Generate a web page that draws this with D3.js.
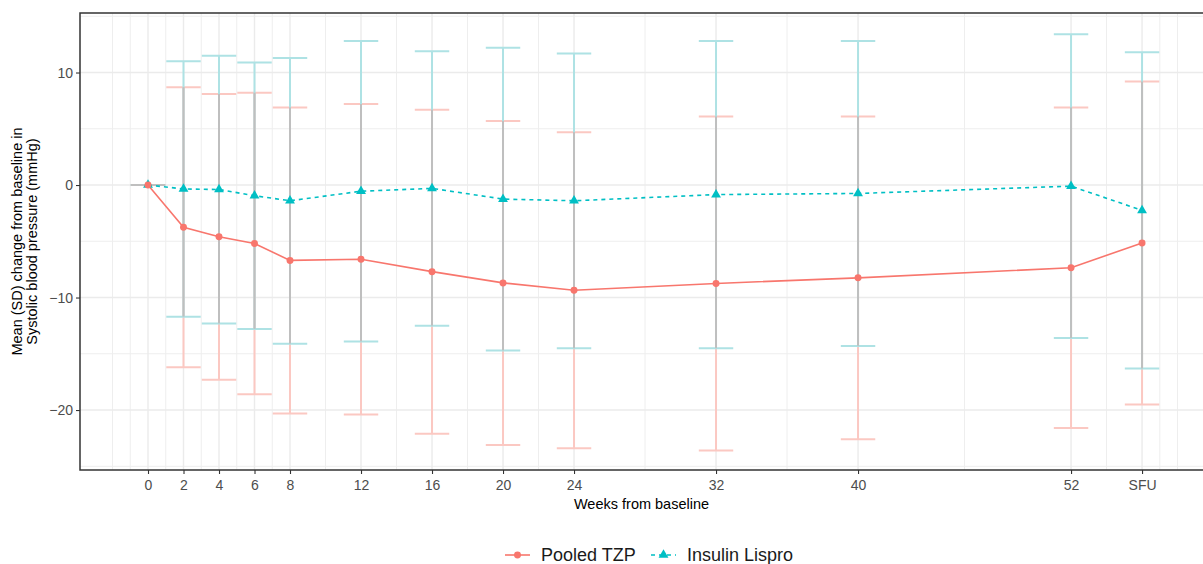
<!DOCTYPE html>
<html>
<head>
<meta charset="utf-8">
<script src="https://cdn.jsdelivr.net/npm/d3@7"></script>
<style>
  html, body { margin: 0; padding: 0; background: #ffffff; }
  svg { display: block; font-family: "Liberation Sans", Arial, sans-serif; }
</style>
</head>
<body>
<svg id="chart" width="1203" height="564"></svg>
<script>
// Visit weeks (SFU = safety follow-up, plotted at week 56)
const weeks = [0, 2, 4, 6, 8, 12, 16, 20, 24, 32, 40, 52, 56];
const weekLabels = ["0", "2", "4", "6", "8", "12", "16", "20", "24", "32", "40", "52", "SFU"];

// Mean (SD) change from baseline in systolic blood pressure, mmHg
const tzpMean = [0, -3.75, -4.6, -5.2, -6.7, -6.6, -7.7, -8.7, -9.35, -8.75, -8.25, -7.35, -5.15];
const tzpSD   = [0, 12.45, 12.7, 13.4, 13.6, 13.8, 14.4, 14.4, 14.05, 14.85, 14.35, 14.25, 14.35];
const lisMean = [0, -0.35, -0.4, -0.95, -1.4, -0.55, -0.3, -1.25, -1.4, -0.85, -0.75, -0.1, -2.25];
const lisSD   = [0, 11.35, 11.9, 11.85, 12.7, 13.35, 12.2, 13.45, 13.1, 13.65, 13.55, 13.5, 14.05];

const seriesNames = ["Pooled TZP", "Insulin Lispro"];

const yTicks = [-20, -10, 0, 10];
const yMinor = [-25, -15, -5, 5, 15];
const xMinor = [-2, -1, 1, 3, 5, 7, 10, 14, 18, 22, 28, 36, 46, 54, 57, 58];

const colTZP = "#F8766D", colLis = "#00BFC4";
const barTZP = "#fbc8c2", barLis = "#aee2e4", barShared = "#bfbfbf";

const svg = d3.select("#chart");
const panel = { left: 80, top: 13, right: 1204, bottom: 470 };

const x = d3.scaleLinear().domain([-3.831, 59.49]).range([panel.left, panel.right]);
const y = d3.scaleLinear().domain([-25.33, 15.29]).range([panel.bottom, panel.top]);

const series = [
  { name: seriesNames[0], mean: tzpMean, sd: tzpSD, color: colTZP, bar: barTZP, dash: null, shape: d3.symbolCircle },
  { name: seriesNames[1], mean: lisMean, sd: lisSD, color: colLis, bar: barLis, dash: "4,4", shape: d3.symbolTriangle }
];
series.forEach(s => {
  s.rows = weeks.map((w, i) => ({ w, m: s.mean[i], lo: s.mean[i] - s.sd[i], hi: s.mean[i] + s.sd[i] }));
});

svg.append("clipPath").attr("id", "pclip").append("rect")
  .attr("x", panel.left).attr("y", panel.top)
  .attr("width", panel.right - panel.left).attr("height", panel.bottom - panel.top);

const g = svg.append("g").attr("clip-path", "url(#pclip)");

// Grid
g.selectAll(".ymin").data(yMinor).join("line")
  .attr("x1", panel.left).attr("x2", panel.right)
  .attr("y1", d => y(d)).attr("y2", d => y(d))
  .attr("stroke", "#eeeeee").attr("stroke-width", 1);
g.selectAll(".xmin").data(xMinor).join("line")
  .attr("y1", panel.top).attr("y2", panel.bottom)
  .attr("x1", d => x(d)).attr("x2", d => x(d))
  .attr("stroke", "#eeeeee").attr("stroke-width", 1);
g.selectAll(".ymaj").data(yTicks).join("line")
  .attr("x1", panel.left).attr("x2", panel.right)
  .attr("y1", d => y(d)).attr("y2", d => y(d))
  .attr("stroke", "#ebebeb").attr("stroke-width", 1.4);
g.selectAll(".xmaj").data(weeks).join("line")
  .attr("y1", panel.top).attr("y2", panel.bottom)
  .attr("x1", d => x(d)).attr("x2", d => x(d))
  .attr("stroke", "#ebebeb").attr("stroke-width", 1.4);

// Error bars (mean ± SD), caps about one week either side
const capHalf = 0.97;
series.forEach(s => {
  const eb = g.append("g");
  eb.selectAll("line.v").data(s.rows).join("line")
    .attr("x1", d => x(d.w)).attr("x2", d => x(d.w))
    .attr("y1", d => y(d.lo)).attr("y2", d => y(d.hi))
    .attr("stroke", s.bar).attr("stroke-width", 2);
  ["lo", "hi"].forEach(k => {
    eb.selectAll("line.c" + k).data(s.rows).join("line")
      .attr("x1", d => x(d.w - capHalf)).attr("x2", d => x(d.w + capHalf))
      .attr("y1", d => y(d[k])).attr("y2", d => y(d[k]))
      .attr("stroke", s.bar).attr("stroke-width", 2);
  });
});

// Range covered by both groups' bars
const shared = weeks.map((w, i) => ({
  w,
  lo: Math.max(series[0].rows[i].lo, series[1].rows[i].lo),
  hi: Math.min(series[0].rows[i].hi, series[1].rows[i].hi),
  same: series[0].rows[i].lo === series[1].rows[i].lo && series[0].rows[i].hi === series[1].rows[i].hi
}));
g.selectAll("line.shared").data(shared.filter(d => d.hi > d.lo)).join("line")
  .attr("x1", d => x(d.w)).attr("x2", d => x(d.w))
  .attr("y1", d => y(d.lo)).attr("y2", d => y(d.hi))
  .attr("stroke", barShared).attr("stroke-width", 2);
g.selectAll("line.sharedcap").data(shared.filter(d => d.same)).join("line")
  .attr("x1", d => x(d.w - capHalf)).attr("x2", d => x(d.w + capHalf))
  .attr("y1", d => y(d.lo)).attr("y2", d => y(d.lo))
  .attr("stroke", barShared).attr("stroke-width", 2);

// Mean lines and points
const line = d3.line().x(d => x(d.w)).y(d => y(d.m));
series.forEach(s => {
  g.append("path").datum(s.rows)
    .attr("d", line).attr("fill", "none")
    .attr("stroke", s.color).attr("stroke-width", 1.6)
    .attr("stroke-dasharray", s.dash);
});
series.slice().reverse().forEach(s => {
  g.selectAll(null).data(s.rows).join("path")
    .attr("transform", d => `translate(${x(d.w)},${y(d.m)})`)
    .attr("d", d3.symbol().type(s.shape).size(s.shape === d3.symbolCircle ? 38 : 42))
    .attr("fill", s.color);
});

// Panel border
svg.append("rect")
  .attr("x", panel.left).attr("y", panel.top)
  .attr("width", panel.right - panel.left).attr("height", panel.bottom - panel.top)
  .attr("fill", "none").attr("stroke", "#333333").attr("stroke-width", 1.5);

// Axes
const xAxis = d3.axisBottom(x).tickValues(weeks)
  .tickFormat((d, i) => weekLabels[i]).tickSize(4).tickPadding(6);
const xg = svg.append("g").attr("transform", `translate(0,${panel.bottom})`).call(xAxis);
xg.select(".domain").remove();
xg.selectAll(".tick line").attr("stroke", "#333333").attr("stroke-width", 1.1);
xg.selectAll(".tick text").attr("fill", "#4d4d4d").style("font-size", "14px")
  .style("font-family", "Liberation Sans, Arial, sans-serif");

const yAxis = d3.axisLeft(y).tickValues(yTicks).tickSize(4).tickPadding(3);
const yg = svg.append("g").attr("transform", `translate(${panel.left},0)`).call(yAxis);
yg.select(".domain").remove();
yg.selectAll(".tick line").attr("stroke", "#333333").attr("stroke-width", 1.1);
yg.selectAll(".tick text").attr("fill", "#4d4d4d").style("font-size", "14px")
  .style("font-family", "Liberation Sans, Arial, sans-serif");

// Axis titles
svg.append("text")
  .attr("x", (panel.left + 1203) / 2).attr("y", 509)
  .attr("text-anchor", "middle").style("font-size", "14.5px").attr("fill", "#000")
  .text("Weeks from baseline");

const yt = svg.append("text")
  .attr("transform", `translate(22,${(panel.top + panel.bottom) / 2}) rotate(-90)`)
  .attr("text-anchor", "middle").style("font-size", "14.5px").attr("fill", "#000");
yt.append("tspan").attr("x", 0).attr("dy", 0).text("Mean (SD) change from baseline in");
yt.append("tspan").attr("x", 0).attr("dy", "1.05em").text("Systolic blood pressure (mmHg)");

// Legend
const legendY = 555;
const lg = svg.append("g");
const legendX = [505, 651];
series.forEach((s, i) => {
  const x0 = legendX[i];
  lg.append("line").attr("x1", x0).attr("x2", x0 + 25)
    .attr("y1", legendY).attr("y2", legendY)
    .attr("stroke", s.color).attr("stroke-width", 1.6)
    .attr("stroke-dasharray", s.dash);
  lg.append("path").attr("transform", `translate(${x0 + 12.5},${legendY})`)
    .attr("d", d3.symbol().type(s.shape).size(s.shape === d3.symbolCircle ? 38 : 42))
    .attr("fill", s.color);
  lg.append("text").attr("x", x0 + 36).attr("y", legendY).attr("dy", "0.36em")
    .style("font-size", "18px").attr("fill", "#1a1a1a").text(s.name);
});
</script>
</body>
</html>
